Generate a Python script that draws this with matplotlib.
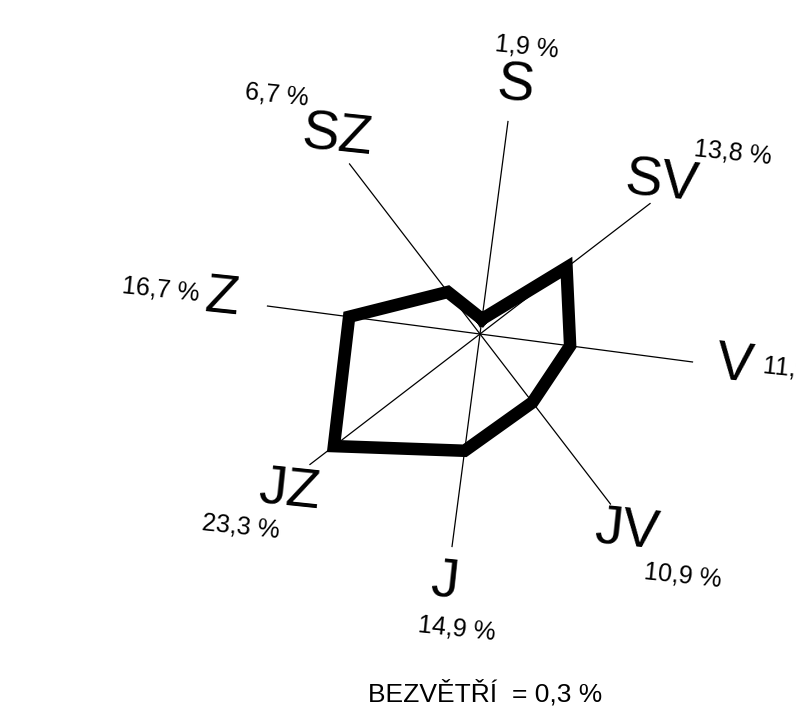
import numpy as np
import matplotlib.pyplot as plt

plt.rcParams['font.family'] = ['Liberation Sans', 'DejaVu Sans']

# wind rose data (% of time from each direction)
directions = ['S', 'SV', 'V', 'JV', 'J', 'JZ', 'Z', 'SZ']
percent = [1.9, 13.8, 11.5, 10.9, 14.9, 23.3, 16.7, 6.7]
pct_labels = ['1,9 %', '13,8 %', '11,5 %', '10,9 %', '14,9 %', '23,3 %', '16,7 %', '6,7 %']
calm_label = 'BEZVĚTŘÍ  = 0,3 %'

W, H = 796, 718
fig = plt.figure(figsize=(W / 100, H / 100), dpi=100)

# centre and radius of the rose in pixels
cx, cy, R = 480, 334, 215
ax = fig.add_axes([(cx - R) / W, 1 - (cy + R) / H, 2 * R / W, 2 * R / H],
                  projection='polar')
ax.set_theta_zero_location('N', offset=-7.5)
ax.set_theta_direction(-1)
rmax = 27.2
ax.set_ylim(0, rmax)

theta = np.deg2rad(np.arange(len(directions)) * 45)
for t in theta:
    ax.plot([t, t], [0, rmax], color='black', lw=0.9)

ax.plot(np.append(theta, theta[0]), percent + [percent[0]],
        color='black', lw=9, solid_joinstyle='miter')
ax.axis('off')

# label positions in pixels (x, y from top); the V value runs off the edge
# exactly as in the original drawing
dir_pos = {'S': (515, 87), 'SV': (662, 183), 'V': (735, 366), 'JV': (627, 531),
           'J': (444, 582), 'JZ': (289, 491), 'Z': (222, 299), 'SZ': (337, 137)}
pct_pos = {'S': (527, 47), 'SV': (733, 153), 'V': (801, 370), 'JV': (683, 576),
           'J': (457, 629), 'JZ': (241, 527), 'Z': (161, 290), 'SZ': (277, 95)}

for d, lab in zip(directions, pct_labels):
    x, y = dir_pos[d]
    fig.text(x / W, 1 - y / H, d, fontsize=40, ha='center', va='center',
             rotation=-6)
    x, y = pct_pos[d]
    fig.text(x / W, 1 - y / H, lab, fontsize=18, ha='center', va='center',
             rotation=-6)

fig.text(485 / W, 1 - 693 / H, calm_label, fontsize=19, ha='center', va='center')

fig.savefig('out.png', dpi=100)
